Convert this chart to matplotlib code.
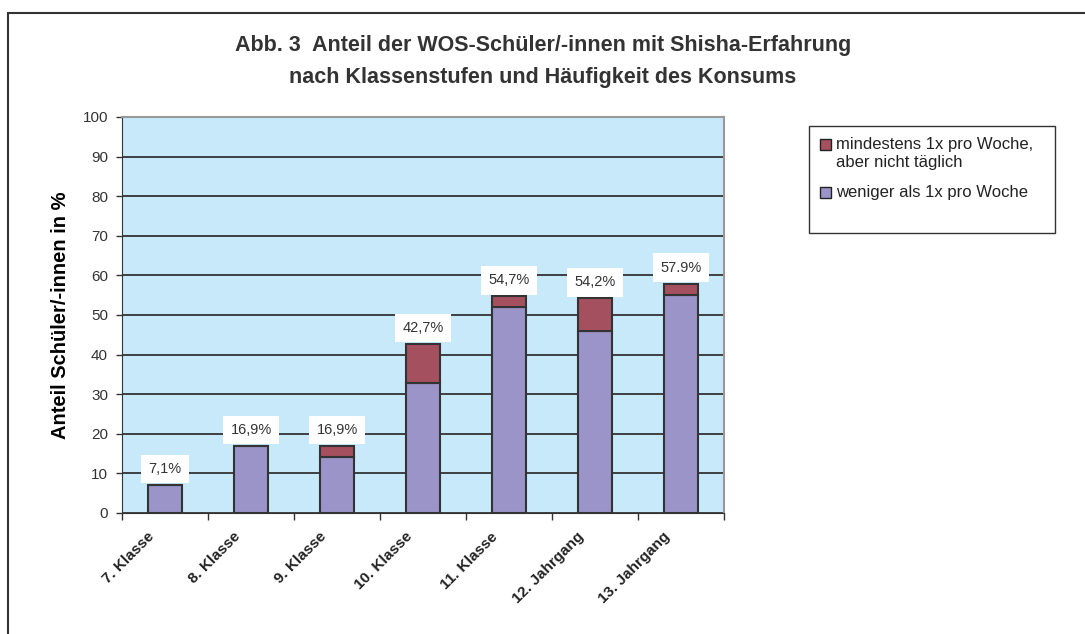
import numpy as np
import matplotlib.pyplot as plt
from matplotlib.patches import Rectangle
from matplotlib.transforms import ScaledTranslation

plt.rcParams['font.family'] = ['Liberation Sans', 'DejaVu Sans']

### Data

categories = ['7. Klasse', '8. Klasse', '9. Klasse', '10. Klasse',
              '11. Klasse', '12. Jahrgang', '13. Jahrgang']
weniger = [7.1, 16.9, 14.2, 32.9, 51.9, 45.9, 55.0]
mindestens = [0.0, 0.0, 2.7, 9.8, 2.8, 8.3, 2.9]
total_labels = ['7,1%', '16,9%', '16,9%', '42,7%', '54,7%', '54,2%', '57.9%']

col_weniger = '#9B94C9'
col_mindestens = '#A5505F'
col_bg = '#C7E9F9'
col_edge = '#333333'

W, H = 1085, 634


def px(xp, yp):
    # pixel position (from top left) -> figure fraction
    return xp / W, 1 - yp / H


### Figure

fig = plt.figure(figsize=(10.85, 6.34), dpi=100)
fig.add_artist(Rectangle((8 / W, -1), 2, 1 + (1 - 13 / H), transform=fig.transFigure,
                         fill=False, edgecolor='#333333', linewidth=1.5))

ax = fig.add_axes([122 / W, 1 - 513 / H, 602 / W, 396 / H])
ax.set_facecolor(col_bg)

x = np.arange(len(categories))
ax.bar(x, weniger, width=0.4, color=col_weniger, edgecolor=col_edge, linewidth=1.5, zorder=3)
ax.bar(x, mindestens, width=0.4, bottom=weniger, color=col_mindestens,
       edgecolor=col_edge, linewidth=1.5, zorder=3)

totals = np.array(weniger) + np.array(mindestens)
for xi, t, lab in zip(x, totals, total_labels):
    ax.annotate(lab, (xi, t), xytext=(0, 11.5), textcoords='offset points',
                ha='center', va='center', fontsize=10.5, color='#333333', zorder=4,
                bbox=dict(boxstyle='square,pad=0.5', facecolor='white', edgecolor='none'))

ax.set_xlim(-0.5, len(categories) - 0.5)
ax.set_ylim(0, 100)
ax.set_yticks(np.arange(0, 101, 10))
ax.yaxis.grid(True, color='#333333', linewidth=1.3, zorder=1)
ax.set_axisbelow(True)
ax.tick_params(axis='y', labelsize=11, length=4, width=1, color='#333333',
               labelcolor='#333333', pad=6)

ax.set_xticks(x)
ax.set_xticks(np.arange(-0.5, len(categories), 1), minor=True)
ax.tick_params(axis='x', which='major', length=0, pad=12)
ax.tick_params(axis='x', which='minor', length=5, width=1, color='#333333')
ax.set_xticklabels(categories, rotation=45, ha='right', rotation_mode='anchor',
                   fontsize=11, fontweight='bold', color='#222222')
for lbl in ax.get_xticklabels():
    lbl.set_transform(lbl.get_transform() + ScaledTranslation(-13 / 72, 0, fig.dpi_scale_trans))

for side in ['top', 'right']:
    ax.spines[side].set_color('#999999')
    ax.spines[side].set_linewidth(1.5)
ax.spines['left'].set_color('#333333')
ax.spines['bottom'].set_color('#333333')

ax.set_ylabel('Anteil Schüler/-innen in %', fontsize=14.5, fontweight='bold', labelpad=9)

fig.text(*px(543, 45), 'Abb. 3  Anteil der WOS-Schüler/-innen mit Shisha-Erfahrung',
         ha='center', va='center', fontsize=15.5, fontweight='bold', color='#333333')
fig.text(*px(543, 78), 'nach Klassenstufen und Häufigkeit des Konsums',
         ha='center', va='center', fontsize=15.5, fontweight='bold', color='#333333')

### Legend (drawn by hand so the square sits on the first text line)

fig.add_artist(Rectangle(px(809, 233), 246 / W, 107 / H, transform=fig.transFigure,
                         fill=False, edgecolor='#333333', linewidth=1))
legend_items = [(col_mindestens, 'mindestens 1x pro Woche,', 144),
                (None, 'aber nicht täglich', 162),
                (col_weniger, 'weniger als 1x pro Woche', 192)]
for col, text, yc in legend_items:
    if col is not None:
        fig.add_artist(Rectangle(px(820, yc + 5.5), 11 / W, 11 / H, transform=fig.transFigure,
                                 facecolor=col, edgecolor='#222222', linewidth=1))
    fig.text(*px(836, yc), text, ha='left', va='center', fontsize=12, color='#222222')

fig.savefig('out.png', dpi=100)
